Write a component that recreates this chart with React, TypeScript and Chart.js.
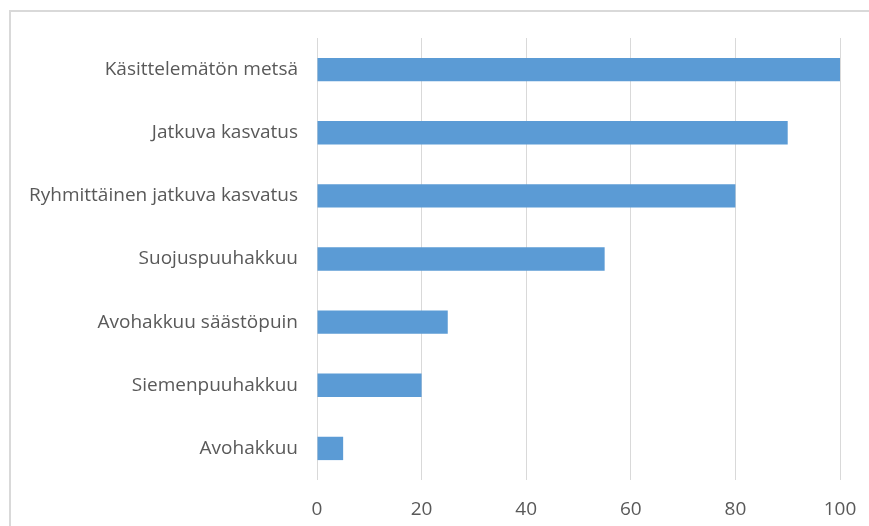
import React, { useEffect, useRef } from "react";
import { Chart, registerables } from "chart.js";

Chart.register(...registerables);

const categories = [
  "Käsittelemätön metsä",
  "Jatkuva kasvatus",
  "Ryhmittäinen jatkuva kasvatus",
  "Suojuspuuhakkuu",
  "Avohakkuu säästöpuin",
  "Siemenpuuhakkuu",
  "Avohakkuu",
];
const values = [100, 90, 80, 55, 25, 20, 5];
const xMin = 0;
const xMax = 100;
const xStep = 20;

export default function App() {
  const ref = useRef<HTMLCanvasElement>(null);
  useEffect(() => {
    const ctx = ref.current!;
    const font = { family: "'Open Sans', sans-serif", size: 19 };
    const chart = new Chart(ctx, {
      type: "bar",
      data: {
        labels: categories,
        datasets: [
          {
            data: values,
            backgroundColor: "#5b9bd5",
            borderWidth: 0,
            categoryPercentage: 1,
            barPercentage: 0.37,
          },
        ],
      },
      options: {
        indexAxis: "y",
        animation: false,
        responsive: false,
        maintainAspectRatio: false,
        layout: { padding: { top: 38, right: 29, left: 0, bottom: 0 } },
        plugins: { legend: { display: false }, tooltip: { enabled: false } },
        scales: {
          x: {
            min: xMin,
            max: xMax,
            ticks: { stepSize: xStep, color: "#595959", font, padding: 18 },
            grid: { color: "#d9d9d9", drawTicks: false, lineWidth: 1 },
            border: { display: false },
            afterFit: (s: any) => {
              s.height = 46;
              s.paddingRight = 0;
              s.paddingLeft = 0;
            },
          },
          y: {
            ticks: { color: "#595959", font, padding: 19 },
            grid: { display: false, drawTicks: false },
            border: { display: false },
            afterFit: (s: any) => {
              s.width = 317;
              s.paddingTop = 0;
              s.paddingBottom = 0;
            },
          },
        },
      },
    });
    return () => chart.destroy();
  }, []);
  return (
    <div style={{ position: "fixed", left: 0, top: 0, width: 869, height: 526, background: "#fff" }}>
      <div
        style={{
          position: "absolute",
          left: 9,
          top: 10,
          width: 900,
          height: 600,
          borderLeft: "2px solid #d9d9d9",
          borderTop: "2px solid #d9d9d9",
        }}
      />
      <canvas ref={ref} width={869} height={526} style={{ position: "absolute", left: 0, top: 0 }} />
    </div>
  );
}
